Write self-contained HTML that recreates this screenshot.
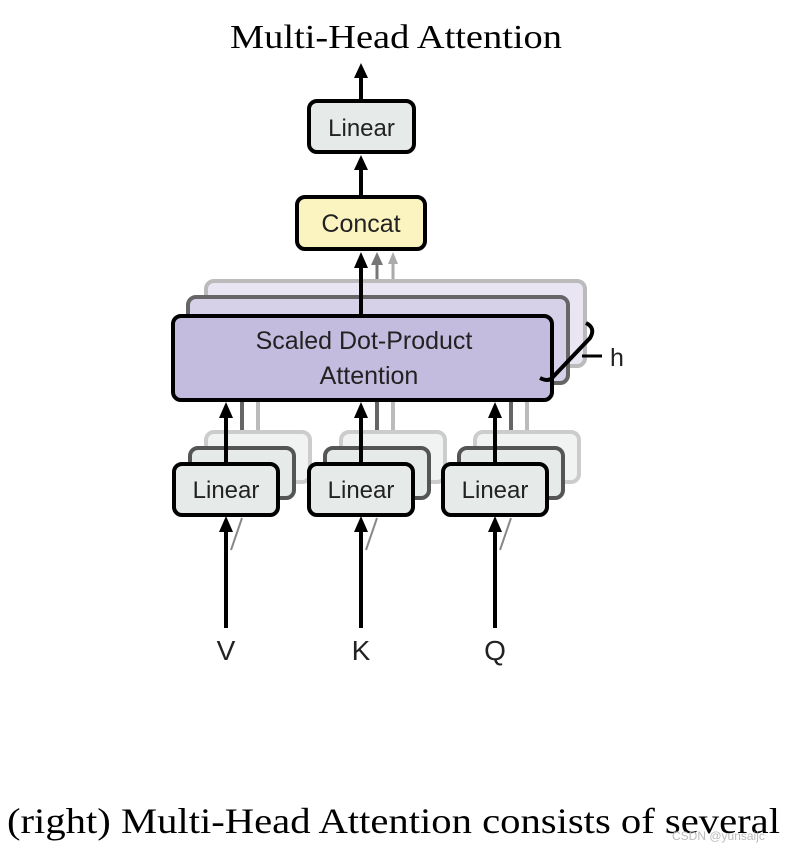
<!DOCTYPE html>
<html><head><style>html,body{margin:0;padding:0;background:#fff}svg{display:block}</style></head>
<body>
<svg width="788" height="852" viewBox="0 0 788 852" xmlns="http://www.w3.org/2000/svg">
<defs>
<marker id="ah" viewBox="0 0 10 10" refX="5" refY="0" markerWidth="10" markerHeight="10" markerUnits="userSpaceOnUse" orient="auto"></marker>
</defs>
<text x="230" y="48" font-family="Liberation Serif, serif" font-size="34" textLength="332" lengthAdjust="spacingAndGlyphs">Multi-Head Attention</text>

<!-- top arrows -->
<g stroke="#000" stroke-width="4" fill="#000">
<line x1="361" y1="99" x2="361" y2="74"/>
<polygon points="354,78 361,63 368,78" stroke="none"/>
<line x1="361" y1="195" x2="361" y2="170"/>
<polygon points="354,170 361,155 368,170" stroke="none"/>
</g>
<rect x="309" y="101" width="105" height="51" rx="8" fill="#e6ebe9" stroke="#000" stroke-width="4"/>
<text x="361.5" y="136" text-anchor="middle" font-family="Liberation Sans, sans-serif" font-size="24" fill="#222">Linear</text>
<rect x="297" y="197" width="128" height="52" rx="8" fill="#fbf4c0" stroke="#000" stroke-width="4"/>
<text x="361" y="232" text-anchor="middle" font-family="Liberation Sans, sans-serif" font-size="25" fill="#222">Concat</text>

<!-- concat input arrows (gray) -->
<line x1="393" y1="281" x2="393" y2="262" stroke="#aaa" stroke-width="3"/>
<polygon points="388,264 393,252 398,264" fill="#aaa"/>
<line x1="377" y1="297" x2="377" y2="262" stroke="#777" stroke-width="3"/>
<polygon points="371,265 377,252 383,265" fill="#777"/>

<!-- SDPA back layers -->
<rect x="206" y="281" width="379" height="85" rx="8" fill="#e9e5f3" stroke="#bbb" stroke-width="4"/>
<rect x="188" y="297" width="380" height="86" rx="8" fill="#d6d0e8" stroke="#666" stroke-width="4"/>
<line x1="361" y1="315" x2="361" y2="265" stroke="#000" stroke-width="4"/>
<polygon points="354,268 361,252 368,268" fill="#000"/>
<rect x="173" y="316" width="379" height="84" rx="8" fill="#c4bcdf" stroke="#000" stroke-width="4"/>
<text x="364" y="349" text-anchor="middle" font-family="Liberation Sans, sans-serif" font-size="25" fill="#222">Scaled Dot-Product</text>
<text x="369" y="384" text-anchor="middle" font-family="Liberation Sans, sans-serif" font-size="25" fill="#222">Attention</text>
<path d="M586,323 Q596,328 590,338 L552,378 Q548,382 540,378" fill="none" stroke="#000" stroke-width="4"/>
<line x1="582" y1="356" x2="602" y2="356" stroke="#000" stroke-width="3"/>
<text x="610" y="366" font-family="Liberation Sans, sans-serif" font-size="25" fill="#222">h</text>

<!-- linears -->
<g font-family="Liberation Sans, sans-serif" font-size="24" fill="#222">
<g transform="translate(0,0)">
 <line x1="258" y1="431" x2="258" y2="402" stroke="#bbb" stroke-width="4"/>
 <line x1="242" y1="447" x2="242" y2="402" stroke="#666" stroke-width="4"/>
 <rect x="206" y="432" width="104" height="50" rx="8" fill="#f1f3f2" stroke="#ccc" stroke-width="4"/>
 <rect x="190" y="448" width="104" height="50" rx="8" fill="#e6ebe9" stroke="#555" stroke-width="4"/>
 <line x1="226" y1="463" x2="226" y2="416" stroke="#000" stroke-width="4"/>
 <polygon points="219,418 226,402 233,418" fill="#000"/>
 <rect x="174" y="464" width="104" height="51" rx="8" fill="#e6ebe9" stroke="#000" stroke-width="4"/>
 <text x="226" y="498" text-anchor="middle">Linear</text>
 <line x1="226" y1="628" x2="226" y2="530" stroke="#000" stroke-width="4"/>
 <polygon points="219,532 226,516 233,532" fill="#000"/>
 <line x1="231" y1="550" x2="242" y2="518" stroke="#888" stroke-width="2"/>
 <text x="226" y="660" text-anchor="middle" font-size="28">V</text>
</g>
<g transform="translate(135,0)">
 <line x1="258" y1="431" x2="258" y2="402" stroke="#bbb" stroke-width="4"/>
 <line x1="242" y1="447" x2="242" y2="402" stroke="#666" stroke-width="4"/>
 <rect x="206" y="432" width="104" height="50" rx="8" fill="#f1f3f2" stroke="#ccc" stroke-width="4"/>
 <rect x="190" y="448" width="104" height="50" rx="8" fill="#e6ebe9" stroke="#555" stroke-width="4"/>
 <line x1="226" y1="463" x2="226" y2="416" stroke="#000" stroke-width="4"/>
 <polygon points="219,418 226,402 233,418" fill="#000"/>
 <rect x="174" y="464" width="104" height="51" rx="8" fill="#e6ebe9" stroke="#000" stroke-width="4"/>
 <text x="226" y="498" text-anchor="middle">Linear</text>
 <line x1="226" y1="628" x2="226" y2="530" stroke="#000" stroke-width="4"/>
 <polygon points="219,532 226,516 233,532" fill="#000"/>
 <line x1="231" y1="550" x2="242" y2="518" stroke="#888" stroke-width="2"/>
 <text x="226" y="660" text-anchor="middle" font-size="28">K</text>
</g>
<g transform="translate(269,0)">
 <line x1="258" y1="431" x2="258" y2="402" stroke="#bbb" stroke-width="4"/>
 <line x1="242" y1="447" x2="242" y2="402" stroke="#666" stroke-width="4"/>
 <rect x="206" y="432" width="104" height="50" rx="8" fill="#f1f3f2" stroke="#ccc" stroke-width="4"/>
 <rect x="190" y="448" width="104" height="50" rx="8" fill="#e6ebe9" stroke="#555" stroke-width="4"/>
 <line x1="226" y1="463" x2="226" y2="416" stroke="#000" stroke-width="4"/>
 <polygon points="219,418 226,402 233,418" fill="#000"/>
 <rect x="174" y="464" width="104" height="51" rx="8" fill="#e6ebe9" stroke="#000" stroke-width="4"/>
 <text x="226" y="498" text-anchor="middle">Linear</text>
 <line x1="226" y1="628" x2="226" y2="530" stroke="#000" stroke-width="4"/>
 <polygon points="219,532 226,516 233,532" fill="#000"/>
 <line x1="231" y1="550" x2="242" y2="518" stroke="#888" stroke-width="2"/>
 <text x="226" y="660" text-anchor="middle" font-size="28">Q</text>
</g>
</g>

<text x="7" y="833" font-family="Liberation Serif, serif" font-size="36" textLength="773" lengthAdjust="spacingAndGlyphs">(right) Multi-Head Attention consists of several</text>
<text x="672" y="840" font-family="Liberation Sans, sans-serif" font-size="12" fill="#bbb">CSDN @yunsaijc</text>
</svg>
</body></html>
